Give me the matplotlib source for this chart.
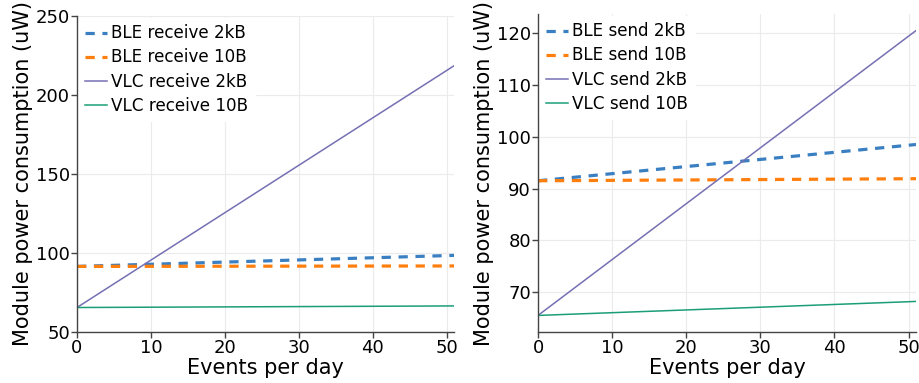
import matplotlib
matplotlib.use("Agg")
from matplotlib import pyplot as plt

events = [0, 51]

# receive scenario (uW)
ble_rx_2kb = [91.5, 98.5]
ble_rx_10b = [91.5, 91.8]
vlc_rx_2kb = [65.5, 218.5]
vlc_rx_10b = [65.5, 66.5]

# send scenario (uW)
ble_tx_2kb = [91.5, 98.5]
ble_tx_10b = [91.5, 91.9]
vlc_tx_2kb = [65.5, 120.5]
vlc_tx_10b = [65.5, 68.2]

left_labels = ['BLE receive 2kB', 'BLE receive 10B', 'VLC receive 2kB', 'VLC receive 10B']
right_labels = ['BLE send 2kB', 'BLE send 10B', 'VLC send 2kB', 'VLC send 10B']

colors = ['#3a7fc1', '#ff7f0e', '#7570b3', '#1b9e77']
spine_col = '#444444'

fig = plt.figure(figsize=(9.19, 3.83), dpi=100)
ax1 = fig.add_axes([77/919, 51/383, 377/919, 316/383])
ax2 = fig.add_axes([538/919, 51/383, 378/919, 318/383])

def draw(ax, series, labels):
    for i, (vals, lab) in enumerate(zip(series, labels)):
        if i < 2:
            ax.plot(events, vals, color=colors[i], lw=2.3, ls=(0, (2.9, 2.4)), label=lab)
        else:
            ax.plot(events, vals, color=colors[i], lw=1.1, label=lab)
    ax.set_xlim(0, 51)
    ax.set_xticks([0, 10, 20, 30, 40, 50])
    ax.grid(True, color='#ebebeb', lw=0.8)
    ax.set_axisbelow(True)
    for s in ['top', 'right']:
        ax.spines[s].set_visible(False)
    for s in ['left', 'bottom']:
        ax.spines[s].set_color(spine_col)
        ax.spines[s].set_linewidth(1.0)
    ax.tick_params(colors=spine_col, labelcolor='black', labelsize=13, length=4, width=1, pad=1)
    ax.set_xlabel('Events per day', fontsize=15, labelpad=1)
    ax.set_ylabel('Module power consumption (uW)', fontsize=15, labelpad=2)
    leg = ax.legend(loc='upper left', fontsize=12.1, frameon=True, handlelength=1.3,
                    handletextpad=0.25, borderaxespad=0.1, labelspacing=0.36,
                    borderpad=0.4)
    leg.get_frame().set_facecolor('white')
    leg.get_frame().set_edgecolor('white')
    leg.get_frame().set_alpha(1.0)

draw(ax1, [ble_rx_2kb, ble_rx_10b, vlc_rx_2kb, vlc_rx_10b], left_labels)
ax1.set_ylim(50, 250)
ax1.set_yticks([50, 100, 150, 200, 250])

draw(ax2, [ble_tx_2kb, ble_tx_10b, vlc_tx_2kb, vlc_tx_10b], right_labels)
ax2.set_ylim(62.3, 123.7)
ax2.set_yticks([70, 80, 90, 100, 110, 120])

fig.savefig('out.png', dpi=100)
